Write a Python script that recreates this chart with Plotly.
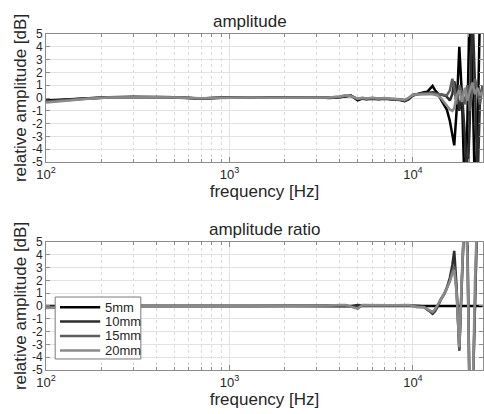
import plotly.graph_objects as go

# ---------------- data ----------------
freq = [100, 130, 170, 220, 300, 400, 500, 600, 700, 800,
        1000, 1300, 1700, 2200, 3000, 3500, 4000, 4300, 4600, 5000,
        5300, 5600, 6000, 6500, 7000, 7500, 8000, 8500, 9000, 9500,
        10000, 10500, 11000, 11500, 12000, 12500, 12800, 13200, 13600, 14200,
        14800, 15300, 15900, 16400, 16800, 17300, 17900, 18500, 19200, 19800,
        20400, 21100, 21800, 22500, 23200, 24000]

labels = ["5mm", "10mm", "15mm", "20mm"]
colors = ["#000000", "#2e2e2e", "#5e5e5e", "#8a8a8a"]

amp_5mm = [-0.20, -0.10, 0.00, 0.05, 0.10, 0.08, 0.05, 0.00, -0.05, 0.00,
           0.05, 0.05, 0.02, 0.05, 0.05, 0.00, 0.05, 0.15, 0.20, -0.18,
           -0.05, -0.10, -0.05, -0.10, -0.05, -0.10, -0.10, -0.15, -0.25, -0.10,
           0.20, 0.30, 0.40, 0.45, 0.50, 0.80, 0.95, 0.60, 0.40, -0.10,
           -0.50, -0.90, -1.80, -3.00, -3.70, -1.00, 4.00, 0.20, -8.00, -2.00,
           8.00, 2.00, -8.00, -3.00, 7.00, 6.00]
amp_10mm = [-0.25, -0.12, -0.02, 0.04, 0.09, 0.08, 0.05, 0.00, -0.04, 0.00,
            0.05, 0.04, 0.02, 0.05, 0.05, 0.02, 0.08, 0.15, 0.18, -0.10,
            -0.02, -0.08, -0.02, -0.08, -0.04, -0.08, -0.08, -0.12, -0.20, -0.05,
            0.25, 0.30, 0.40, 0.40, 0.40, 0.45, 0.45, 0.40, 0.35, 0.30,
            0.20, 0.10, -0.20, 0.30, 1.30, 0.50, -1.00, 0.50, -3.00, -7.00,
            -2.00, 7.00, 1.00, -7.00, 0.00, 1.00]
amp_15mm = [-0.30, -0.15, -0.03, 0.04, 0.08, 0.07, 0.05, 0.00, -0.03, 0.00,
            0.04, 0.04, 0.02, 0.05, 0.05, 0.03, 0.10, 0.20, 0.15, -0.08,
            0.00, -0.06, 0.00, -0.06, -0.02, -0.06, -0.06, -0.10, -0.18, 0.00,
            0.25, 0.30, 0.35, 0.35, 0.35, 0.40, 0.35, 0.30, 0.30, 0.30,
            0.25, 0.20, 0.60, 1.50, 0.80, -0.50, 1.00, 0.50, -0.50, 1.00,
            -1.00, 0.50, 1.50, 0.50, -0.50, 1.00]
amp_20mm = [-0.35, -0.18, -0.05, 0.03, 0.07, 0.06, 0.04, 0.00, -0.02, 0.00,
            0.04, 0.03, 0.02, 0.04, 0.04, 0.04, 0.12, 0.22, 0.15, -0.05,
            0.02, -0.04, 0.02, -0.04, 0.00, -0.04, -0.04, -0.08, -0.15, 0.02,
            0.25, 0.28, 0.30, 0.30, 0.30, 0.30, 0.30, 0.25, 0.20, 0.00,
            -0.30, -0.60, -0.90, -1.00, -0.80, 0.20, 0.60, -0.30, 0.80, -0.20,
            0.50, 1.20, 0.30, 0.80, 0.20, 0.50]

ratio_5mm = [0.0] * 56
ratio_10mm = [-0.05, -0.02, -0.02, -0.01, -0.01, 0.00, 0.00, 0.00, 0.01, 0.00,
              0.00, -0.01, 0.00, 0.00, 0.00, 0.02, 0.03, 0.00, -0.02, 0.08,
              0.03, 0.02, 0.03, 0.02, 0.01, 0.02, 0.02, 0.03, 0.05, 0.05,
              0.05, 0.00, 0.00, -0.05, -0.30, -0.50, -0.60, -0.40, -0.10, 0.50,
              0.90, 1.40, 2.20, 3.20, 4.30, 1.50, -3.50, 2.00, 8.00, 6.00,
              -8.00, -8.00, 0.00, 8.00, 8.00, 8.00]
ratio_15mm = [-0.10, -0.05, -0.03, -0.01, -0.02, -0.01, 0.00, 0.00, 0.02, 0.00,
              -0.01, -0.01, 0.00, 0.00, 0.00, 0.03, 0.05, 0.05, -0.05, -0.15,
              0.05, 0.04, 0.05, 0.04, 0.01, 0.04, 0.04, 0.05, 0.07, 0.05,
              0.00, -0.05, -0.05, -0.10, -0.30, -0.45, -0.50, -0.30, 0.00, 0.55,
              0.95, 1.40, 2.00, 2.70, 3.10, 1.20, -3.40, 2.20, 8.00, 5.00,
              -8.00, -8.00, 1.00, 8.00, 8.00, 8.00]
ratio_20mm = [-0.15, -0.08, -0.05, -0.02, -0.03, -0.02, -0.01, 0.00, 0.03, 0.00,
              -0.01, -0.02, 0.00, -0.01, -0.01, 0.04, 0.07, 0.08, -0.05, -0.22,
              0.07, 0.06, 0.07, 0.06, 0.03, 0.06, 0.06, 0.08, 0.10, 0.08,
              0.00, -0.10, -0.10, -0.10, -0.25, -0.40, -0.45, -0.25, 0.05, 0.55,
              0.95, 1.35, 1.90, 2.50, 2.80, 1.00, -3.20, 2.50, 8.00, 4.00,
              -8.00, -8.00, 2.00, 8.00, 8.00, 8.00]

amp_series = [amp_5mm, amp_10mm, amp_15mm, amp_20mm]
ratio_series = [ratio_5mm, ratio_10mm, ratio_15mm, ratio_20mm]

x_major = [100, 1000, 10000]
x_major_text = ["10<sup>2</sup>", "10<sup>3</sup>", "10<sup>4</sup>"]
x_minor = [m * d for d in (100, 1000, 10000) for m in range(2, 10)]
y_ticks = [-5, -4, -3, -2, -1, 0, 1, 2, 3, 4, 5]
y_ticktext = [str(v) for v in y_ticks]

# ---------------- figure ----------------
fig = go.Figure()
for name, col, ys in zip(labels, colors, amp_series):
    fig.add_trace(go.Scatter(x=freq, y=ys, mode="lines", name=name,
                             line=dict(color=col, width=2.5),
                             showlegend=False, xaxis="x", yaxis="y"))
for name, col, ys in zip(labels, colors, ratio_series):
    fig.add_trace(go.Scatter(x=freq, y=ys, mode="lines", name=name,
                             line=dict(color=col, width=2.5),
                             showlegend=False, xaxis="x2", yaxis="y2"))

font_family = "Liberation Sans, Arial, sans-serif"
grid_c = "#e3e3e3"
axis_c = "#8c8c8c"
txt_c = "#262626"

def xaxis_cfg(anchor):
    return dict(
        type="log", range=[2, 4.382], anchor=anchor, domain=[0, 1],
        tickvals=x_major, ticktext=x_major_text, ticks="inside", ticklen=5,
        tickcolor=axis_c, showline=True, linecolor=axis_c, linewidth=1,
        mirror="allticks", showgrid=True, gridcolor=grid_c, gridwidth=1,
        zeroline=False, automargin=False,
        minor=dict(tickvals=x_minor, ticks="inside", ticklen=3, tickcolor=axis_c,
                   showgrid=True, gridcolor="#d9d9d9", griddash="dot", gridwidth=1),
        title=dict(text="frequency [Hz]", font=dict(size=17, color=txt_c), standoff=0),
        tickfont=dict(size=13, color=txt_c),
    )

def yaxis_cfg(anchor, dom):
    return dict(
        range=[-5, 5], anchor=anchor, domain=dom,
        tickvals=y_ticks, ticktext=y_ticktext, ticks="inside", ticklen=4,
        tickcolor=axis_c, showline=True, linecolor=axis_c, linewidth=1,
        mirror="allticks", showgrid=True, gridcolor=grid_c, gridwidth=1,
        zeroline=False, automargin=False,
        title=dict(text="relative amplitude [dB]", font=dict(size=17, color=txt_c), standoff=0),
        tickfont=dict(size=12, color=txt_c),
    )

# legend drawn inside the lower axes (box, line samples, labels)
leg_x0, leg_x1 = 0.021, 0.217
leg_y0, leg_y1 = 0.086, 0.570
leg_rows = [0.490, 0.378, 0.266, 0.152]
shapes = [dict(type="rect", xref="x2 domain", yref="y2 domain",
               x0=leg_x0, x1=leg_x1, y0=leg_y0, y1=leg_y1,
               line=dict(color="#7a7a7a", width=1), fillcolor="white", layer="above")]
annotations = [
    dict(text="amplitude", x=0.467, y=1.0, xref="paper", yref="paper",
         xanchor="center", yanchor="bottom", yshift=1, showarrow=False,
         font=dict(size=17, color=txt_c)),
    dict(text="amplitude ratio", x=0.501, y=0.381, xref="paper", yref="paper",
         xanchor="center", yanchor="bottom", yshift=1, showarrow=False,
         font=dict(size=17, color=txt_c)),
]
for name, col, ry in zip(labels, colors, leg_rows):
    shapes.append(dict(type="line", xref="x2 domain", yref="y2 domain",
                       x0=0.032, x1=0.124, y0=ry, y1=ry,
                       line=dict(color=col, width=2.5), layer="above"))
    annotations.append(dict(text=name, xref="x2 domain", yref="y2 domain",
                            x=0.131, y=ry, xanchor="left", yanchor="middle",
                            showarrow=False, font=dict(size=13, color=txt_c)))

fig.update_layout(
    width=484, height=414,
    margin=dict(l=46, r=1, t=34, b=44),
    paper_bgcolor="white", plot_bgcolor="white",
    font=dict(family=font_family, color=txt_c),
    xaxis=xaxis_cfg("y"),
    yaxis=yaxis_cfg("x", [0.619, 1.0]),
    xaxis2=xaxis_cfg("y2"),
    yaxis2=yaxis_cfg("x2", [0.0, 0.381]),
    showlegend=False,
    shapes=shapes,
    annotations=annotations,
)

fig.write_html("out.html", config={"displayModeBar": False},
               post_script="document.body.style.margin='0px';")
